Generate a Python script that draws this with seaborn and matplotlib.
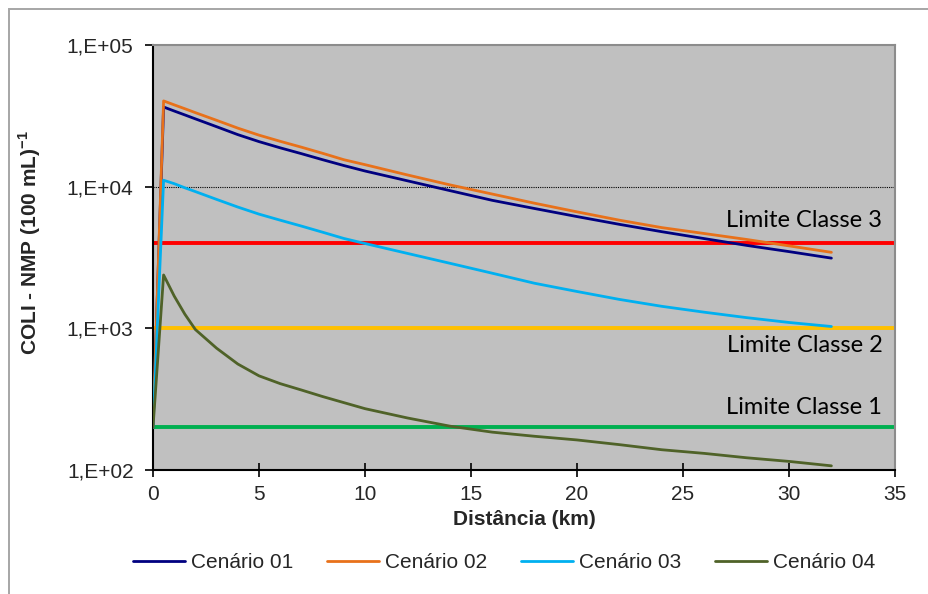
import matplotlib
matplotlib.use("Agg")
import matplotlib.pyplot as plt
import matplotlib.patches as mpatches
import numpy as np
import pandas as pd
import seaborn as sns

# Distance along the river (km)
distancia = [0, 0.5, 1, 1.5, 2, 3, 4, 5, 6, 7, 8, 9, 10, 12, 14, 16, 18, 20,
             22, 24, 26, 28, 30, 32]

# Coliform concentration, NMP (100 mL)^-1, for each scenario
cenario_01 = [200, 36500, 34200, 32100, 30100, 26500, 23300, 20800, 18800, 17100,
              15500, 14100, 12900, 11000, 9380, 8010, 7010, 6150, 5420, 4810,
              4300, 3850, 3480, 3130]
cenario_02 = [200, 40300, 37800, 35500, 33300, 29400, 25900, 23100, 20900, 19000,
              17200, 15500, 14300, 12100, 10300, 8870, 7640, 6640, 5800, 5140,
              4670, 4240, 3820, 3440]
cenario_03 = [200, 11100, 10500, 9820, 9230, 8130, 7180, 6400, 5800, 5270,
              4770, 4310, 3970, 3380, 2880, 2450, 2080, 1820, 1600, 1430,
              1300, 1190, 1100, 1030]
cenario_04 = [200, 2380, 1690, 1260, 980, 724, 560, 462, 407, 367,
              330, 299, 271, 233, 204, 185, 173, 163, 151, 139,
              131, 122, 115, 107]

series_names = ["Cenário 01", "Cenário 02", "Cenário 03", "Cenário 04"]
series_colors = ["#000080", "#E8711A", "#00B0F0", "#4F6228"]

# Class limits (CONAMA)
limite_nomes = ["Limite Classe 1", "Limite Classe 2", "Limite Classe 3"]
limite_valores = [200, 1000, 4000]
limite_cores = ["#00B050", "#FFC000", "#FF0000"]

y_ticks = [1e2, 1e3, 1e4, 1e5]
y_tick_labels = ["1,E+02", "1,E+03", "1,E+04", "1,E+05"]
x_ticks = [0, 5, 10, 15, 20, 25, 30, 35]

sns.set_style("white")
plt.rcParams["font.family"] = ["Liberation Sans", "DejaVu Sans"]
plt.rcParams["mathtext.fontset"] = "custom"
plt.rcParams["mathtext.rm"] = "Liberation Sans"
plt.rcParams["mathtext.bf"] = "Liberation Sans:bold"

df = pd.DataFrame({
    "Distância": distancia * 4,
    "Valor": cenario_01 + cenario_02 + cenario_03 + cenario_04,
    "Cenário": sum([[n] * len(distancia) for n in series_names], []),
})

W, H = 929, 594
fig = plt.figure(figsize=(W / 100, H / 100), dpi=100)
ax = fig.add_axes([153 / W, 1 - 470 / H, (895 - 153) / W, (470 - 45) / H])
ax.set_facecolor("#C0C0C0")

# Outer chart border
fig.patches.append(mpatches.Rectangle((8.5 / W, -0.2), 1.5, 1.2 - 8.5 / H + 0.0,
                                      transform=fig.transFigure, fill=False,
                                      edgecolor="#A6A6A6", lw=1.4, zorder=0))

ax.set_yscale("log")
ax.set_ylim(1e2, 1e5)
ax.set_xlim(0, 35)

# Major gridline (only visible at 1E+04)
for yv in y_ticks[1:-1]:
    ax.axhline(yv, color="black", lw=0.8, ls=(0, (1, 1)), zorder=1)

# Class limit lines
for nome, val, cor in zip(limite_nomes, limite_valores, limite_cores):
    ax.axhline(val, color=cor, lw=2.8, zorder=2)

sns.lineplot(data=df, x="Distância", y="Valor", hue="Cenário",
             palette=dict(zip(series_names, series_colors)), ax=ax,
             estimator=None, sort=False, lw=2.0, zorder=3)

# Class limit labels
lab_font = dict(family=["Lato", "DejaVu Sans"], fontsize=17, ha="right", color="black")
ax.text(34.4, 4000 * 1.22, "Limite Classe 3", va="bottom", **lab_font)
ax.text(34.4, 1000 / 1.12, "Limite Classe 2", va="top", **lab_font)
ax.text(34.4, 200 * 1.16, "Limite Classe 1", va="bottom", **lab_font)

ax.set_yticks(y_ticks)
ax.set_yticklabels(y_tick_labels)
ax.yaxis.set_minor_locator(matplotlib.ticker.NullLocator())
ax.set_xticks(x_ticks)
ax.tick_params(axis="y", direction="out", length=6, width=1.2, pad=8,
               labelsize=15, left=True, color="black")
ax.tick_params(axis="x", direction="inout", length=10, width=1.2, pad=6,
               labelsize=15, bottom=True, color="black")

for side in ["left", "bottom"]:
    ax.spines[side].set_color("black")
    ax.spines[side].set_linewidth(1.5)
for side in ["top", "right"]:
    ax.spines[side].set_color("#8C8C8C")
    ax.spines[side].set_linewidth(1.5)

ax.set_xlabel("Distância (km)", fontsize=15, fontweight="bold", labelpad=4)
ax.set_ylabel(r"COLI - NMP (100 mL)$^{\mathbf{-1}}$", fontsize=15, fontweight="bold")
ax.yaxis.set_label_coords((43 - 153) / (895 - 153), (470 - 243) / (470 - 45))

handles, labels = ax.get_legend_handles_labels()
ax.get_legend().remove()
fig.legend(handles, labels, loc="center", bbox_to_anchor=(504 / W, 1 - 563 / H),
           ncol=4, frameon=False, fontsize=15, handlelength=2.5,
           handletextpad=0.3, columnspacing=1.6, borderpad=0)

fig.savefig("out.png", dpi=100)
